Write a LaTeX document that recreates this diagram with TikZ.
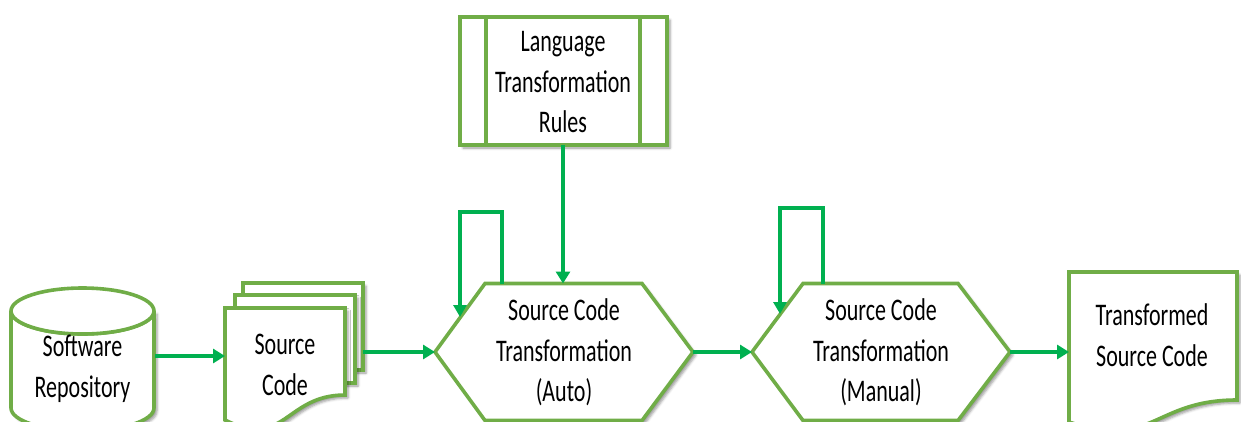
\documentclass[tikz,border=0pt]{standalone}
\usepackage{fontspec}
\setmainfont{Carlito}
\usepackage{graphicx}
\usetikzlibrary{arrows.meta,shadows.blur}

\definecolor{shapegreen}{HTML}{70AD47}
\definecolor{flowgreen}{HTML}{00B050}
\definecolor{ink}{HTML}{000000}

% text is set narrow and tall
\newcommand\lbl[1]{\scalebox{1}[1.43]{\begin{tabular}{@{}c@{}}#1\end{tabular}}}

\tikzset{
  shapeline/.style={draw=shapegreen, line width=3.6pt, fill=white},
  shadowed/.style={blur shadow={shadow xshift=3pt, shadow yshift=-3pt,
      shadow blur radius=2.5pt, shadow opacity=40}},
  flow/.style={draw=flowgreen, line width=4.2pt,
      -{Triangle[length=12pt,width=14pt]}},
  loopflow/.style={draw=flowgreen, line width=3.6pt,
      -{Triangle[length=12pt,width=13pt]}},
  lbltext/.style={text=ink, inner sep=0pt,
      font=\fontsize{22}{28}\selectfont}
}

\begin{document}
\begin{tikzpicture}[x=1pt,y=-1pt]
\useasboundingbox (0,0) rectangle (1241,421);
\clip (0,0) rectangle (1241,421);

% ---------- software repository (cylinder) ----------
\path[shapeline, shadowed] (11,311) -- (11,408)
  arc[start angle=180, end angle=0, x radius=71.5, y radius=23] -- (154,311)
  arc[start angle=0, end angle=180, x radius=71.5, y radius=23] -- cycle;
\draw[shapeline] (82.5,311) ellipse [x radius=71.5, y radius=23];
\node[lbltext] (repo) at (82.5,369) {\lbl{Software\\Repository}};

% ---------- source code (stacked pages) ----------
\path[shapeline, shadowed] (243,283) rectangle (363,370);
\path[shapeline, shadowed] (235,295) rectangle (355,383);
\path[shapeline, shadowed] (225,308) -- (345,308) -- (345,395)
  .. controls (285,395) and (285,450) .. (225,420) -- cycle;
\node[lbltext] (src) at (285,367) {\lbl{Source\\Code}};

% ---------- language transformation rules ----------
\path[shapeline, shadowed] (460,17) rectangle (667,145);
\draw[shapeline] (486,17) -- (486,145);
\draw[shapeline] (640,17) -- (640,145);
\node[lbltext] (rules) at (563,84) {\lbl{Language\\Transformation\\Rules}};

% ---------- automatic transformation (hexagon) ----------
\path[shapeline, shadowed] (435,352) -- (485,283.5) -- (642,283.5)
  -- (693,352) -- (642,420.5) -- (485,420.5) -- cycle;
\node[lbltext] (auto) at (564,353) {\lbl{Source Code\\Transformation\\(Auto)}};

% ---------- manual transformation (hexagon) ----------
\path[shapeline, shadowed] (752,352) -- (803,283.5) -- (958,283.5)
  -- (1010,352) -- (958,420.5) -- (803,420.5) -- cycle;
\node[lbltext] (manual) at (881,353) {\lbl{Source Code\\Transformation\\(Manual)}};

% ---------- transformed source code (document) ----------
\path[shapeline, shadowed] (1069,272) -- (1237,272) -- (1237,400)
  .. controls (1153,400) and (1153,450) .. (1069,422) -- cycle;
\node[lbltext] (result) at (1152,338) {\lbl{Transformed\\Source Code}};

% ---------- connector end points ----------
\coordinate (repoE)    at (155,356);
\coordinate (srcW)     at (225,356);
\coordinate (srcE)     at (363,352);
\coordinate (autoW)    at (435,352);
\coordinate (autoE)    at (693,352);
\coordinate (autoN)    at (563,283.5);
\coordinate (rulesS)   at (563,145);
\coordinate (manualW)  at (752,352);
\coordinate (manualE)  at (1010,352);
\coordinate (resultW)  at (1069,352);
\coordinate (autoTop)  at (502,283.5);
\coordinate (autoEdge) at (460,317);
\coordinate (manTop)   at (823,283.5);
\coordinate (manEdge)  at (780,314);

% ---------- flow ----------
\draw[flow] (repoE) -- (srcW);
\draw[flow] (srcE) -- (autoW);
\draw[flow] (rulesS) -- (autoN);
\draw[flow] (autoE) -- (manualW);
\draw[flow] (manualE) -- (resultW);

% ---------- repeated passes ----------
\draw[loopflow] (autoTop) -- (autoTop |- 0,212) -- (autoEdge |- 0,212) -- (autoEdge);
\draw[loopflow] (manTop) -- (manTop |- 0,208) -- (manEdge |- 0,208) -- (manEdge);

\end{tikzpicture}
\end{document}
